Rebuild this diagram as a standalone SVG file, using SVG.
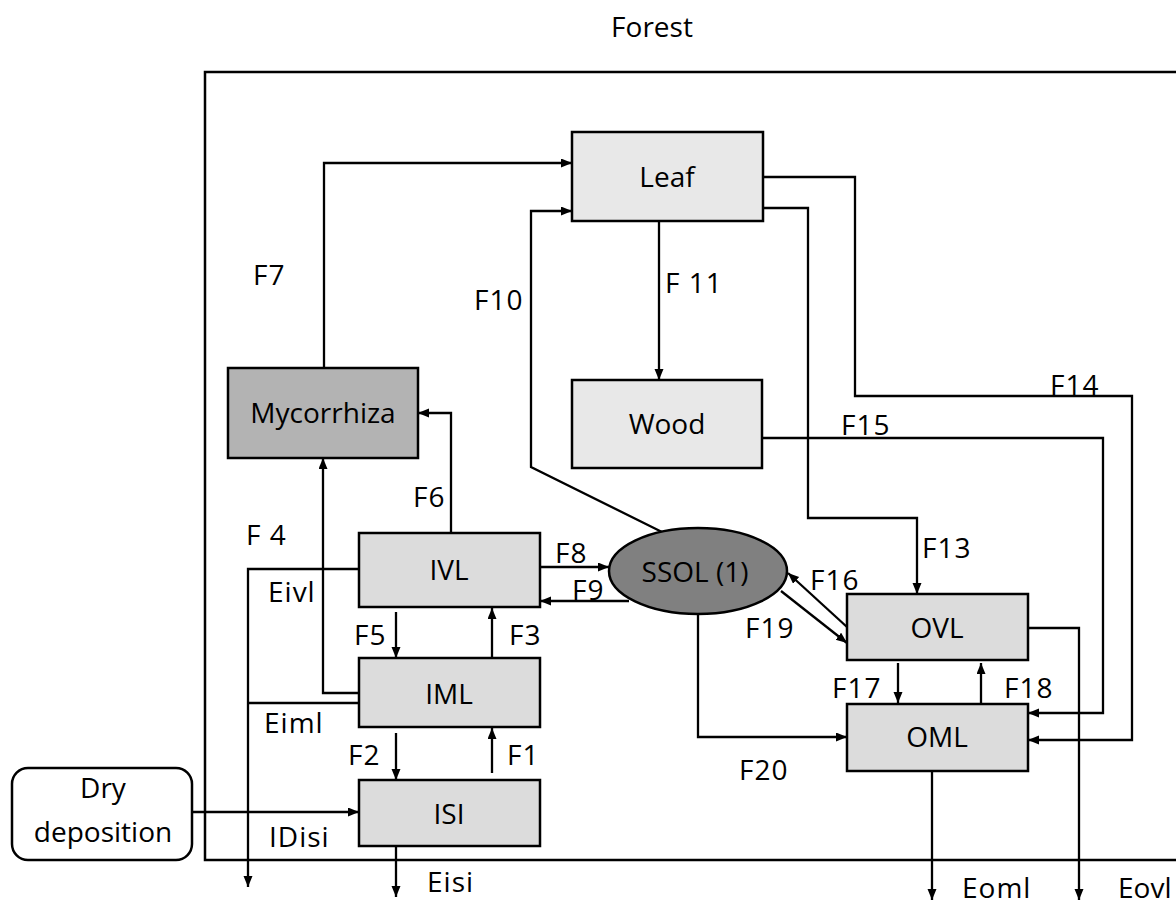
<svg xmlns="http://www.w3.org/2000/svg" width="1176" height="905" viewBox="0 0 1176 905">
<defs>
<marker id="ah" markerUnits="userSpaceOnUse" markerWidth="12" markerHeight="10" refX="11" refY="4.5" orient="auto">
<path d="M0,0 L11,4.5 L0,9 z" fill="#000"/>
</marker>
<style>
text{font-family:"Open Sans","Liberation Sans",sans-serif;font-size:28px;fill:#000}
.c{text-anchor:middle}
#labels text{letter-spacing:1px}
.box{stroke:#000;stroke-width:2.5}
.l{fill:#e8e8e8}
.m{fill:#dcdcdc}
.conn path{fill:none;stroke:#000;stroke-width:2.3}
.a{marker-end:url(#ah)}
</style>
</defs>
<rect width="1176" height="905" fill="#fff"/>
<text class="c" x="652" y="37">Forest</text>
<rect x="205" y="72" width="1000" height="788" fill="none" stroke="#000" stroke-width="2.5"/>

<g class="conn">
<path class="a" d="M324,368 V163 H572"/>
<path class="a" d="M662,532 L531,467 V211 H572"/>
<path class="a" d="M659,221 V380"/>
<path class="a" d="M451,533 V413 H418"/>
<path class="a" d="M359,693 H323 V458"/>
<path class="a" d="M359,569 H248 V887"/>
<path d="M359,703 H248"/>
<path class="a" d="M192,812 H359"/>
<path class="a" d="M396,612 V658"/>
<path class="a" d="M492,657 V608"/>
<path class="a" d="M396,733 V780"/>
<path class="a" d="M492,773 V728"/>
<path class="a" d="M396,847 V897"/>
<path class="a" d="M540,567 H609"/>
<path class="a" d="M629,601 H540"/>
<path class="a" d="M847,627 L788,573"/>
<path class="a" d="M781,591 L847,643"/>
<path class="a" d="M698,614 V737 H847"/>
<path class="a" d="M763,177 H855 V396 H1132 V740 H1028"/>
<path class="a" d="M763,208 H808 V518 H917 V594"/>
<path class="a" d="M762,438 H1103 V713 H1028"/>
<path class="a" d="M1028,628 H1079 V900"/>
<path class="a" d="M932,771 V900"/>
<path class="a" d="M898,663 V703"/>
<path class="a" d="M981,703 V663"/>
</g>

<g id="leaf"><rect class="box l" x="572" y="132" width="191" height="89"/><text class="c" x="667" y="187">Leaf</text></g>
<g id="wood"><rect class="box l" x="572" y="380" width="190" height="88"/><text class="c" x="667" y="434">Wood</text></g>
<g id="mycorrhiza"><rect class="box" fill="#b3b3b3" x="228" y="368" width="190" height="90"/><text class="c" x="323" y="423">Mycorrhiza</text></g>
<g id="ivl"><rect class="box m" x="359" y="533" width="181" height="74"/><text class="c" x="449" y="580">IVL</text></g>
<g id="iml"><rect class="box m" x="359" y="658" width="181" height="69"/><text class="c" x="449" y="704">IML</text></g>
<g id="isi"><rect class="box m" x="359" y="780" width="181" height="66"/><text class="c" x="449" y="824">ISI</text></g>
<g id="ssol"><ellipse cx="698" cy="571" rx="89" ry="43" fill="#808080" stroke="#000" stroke-width="2.5"/><text class="c" x="695" y="582">SSOL (1)</text></g>
<g id="ovl"><rect class="box m" x="847" y="594" width="181" height="66"/><text class="c" x="937" y="638">OVL</text></g>
<g id="oml"><rect class="box m" x="847" y="704" width="181" height="67"/><text class="c" x="937" y="747">OML</text></g>
<g id="dry"><rect x="12" y="768" width="180" height="92" rx="16" fill="#fff" stroke="#000" stroke-width="2.5"/><text class="c" x="103" y="798">Dry</text><text class="c" x="103" y="842">deposition</text></g>

<g id="labels">
<text x="253" y="285">F7</text>
<text x="474" y="310">F10</text>
<text x="665" y="293">F 11</text>
<text x="413" y="507">F6</text>
<text x="246" y="545">F 4</text>
<text x="268" y="602">Eivl</text>
<text x="264" y="733">Eiml</text>
<text x="269" y="847">IDisi</text>
<text x="427" y="892">Eisi</text>
<text x="354" y="645">F5</text>
<text x="509" y="645">F3</text>
<text x="348" y="765">F2</text>
<text x="507" y="765">F1</text>
<text x="555" y="563">F8</text>
<text x="572" y="600">F9</text>
<text x="810" y="590">F16</text>
<text x="745" y="638">F19</text>
<text x="739" y="780">F20</text>
<text x="922" y="558">F13</text>
<text x="1050" y="395">F14</text>
<text x="841" y="435">F15</text>
<text x="832" y="698">F17</text>
<text x="1004" y="698">F18</text>
<text x="962" y="898">Eoml</text>
<text x="1118" y="898" style="letter-spacing:0">Eovl</text>
</g>
</svg>
